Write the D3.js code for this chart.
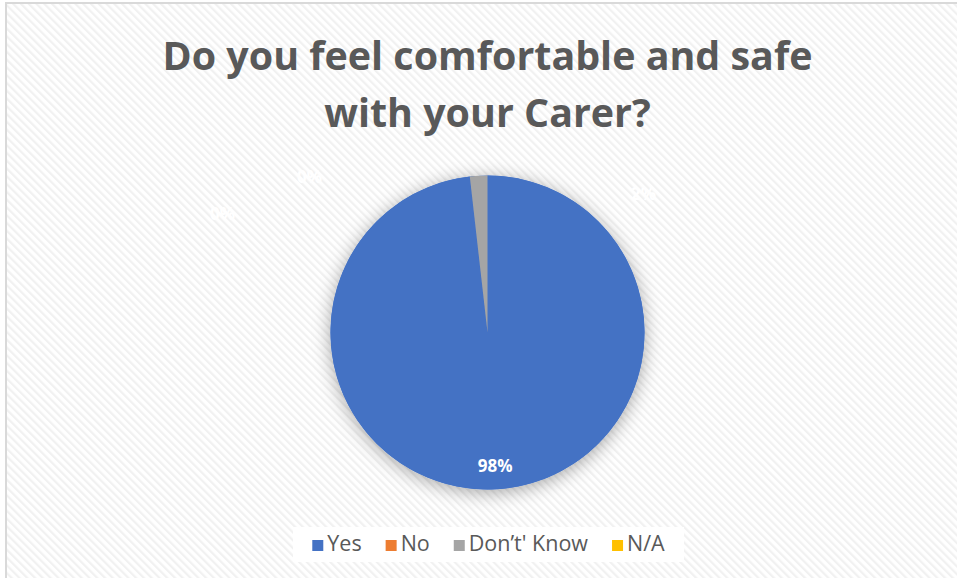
<!DOCTYPE html>
<html>
<head>
<meta charset="utf-8">
<script src="https://cdn.jsdelivr.net/npm/d3@7"></script>
<style>
  html, body { margin: 0; padding: 0; background: #fff; }
  svg { display: block; }
</style>
</head>
<body>
<svg id="chart"></svg>
<script>
//
// Data
//
var categories = ['Yes', 'No', "Don\u2019t' Know", 'N/A']
var values = [98.2, 0, 1.8, 0]
var colors = ['#4472C4', '#ED7D31', '#A5A5A5', '#FFC000']
var titleLines = ['Do you feel comfortable and safe', 'with your Carer?']

//
// Layout
//
var width = 957, height = 578
var cx = 487.5, cy = 332.5, radius = 157
var textColor = '#595959'
var font = '"Open Sans", "Noto Sans", sans-serif'

// where excel dropped the outside labels (offset from pie centre)
var labelOffsets = {
  'No': [-178, -155],
  "Don\u2019t' Know": [156, -138],
  'N/A': [-265, -118]
}

var svg = d3.select('#chart').attr('width', width).attr('height', height)
var defs = svg.append('defs')

var pattern = defs.append('pattern')
  .attr('id', 'stripes')
  .attr('patternUnits', 'userSpaceOnUse')
  .attr('width', 5.5).attr('height', 5.5)
  .attr('patternTransform', 'rotate(-45)')
pattern.append('rect').attr('width', 5.5).attr('height', 5.5).attr('fill', '#fff')
pattern.append('rect').attr('width', 2.2).attr('height', 5.5).attr('fill', '#f1f1f1')

var shadow = defs.append('filter').attr('id', 'shadow')
  .attr('x', '-30%').attr('y', '-30%').attr('width', '160%').attr('height', '160%')
shadow.append('feDropShadow')
  .attr('dx', 0).attr('dy', 3).attr('stdDeviation', 9)
  .attr('flood-color', '#000').attr('flood-opacity', 0.35)

// background + frame
svg.append('rect').attr('width', width).attr('height', height).attr('fill', '#fff')
svg.append('rect')
  .attr('x', 6).attr('y', 3).attr('width', width + 10).attr('height', height + 10)
  .attr('fill', 'url(#stripes)')
  .attr('stroke', '#d9d9d9').attr('stroke-width', 2)

// title
var title = svg.append('text')
  .attr('text-anchor', 'middle')
  .attr('fill', textColor)
  .attr('font-family', font)
  .attr('font-weight', 'bold')
  .attr('font-size', 37)
title.selectAll('tspan').data(titleLines).enter().append('tspan')
  .attr('x', cx)
  .attr('y', function (d, i) { return 70 + i * 57 })
  .text(function (d) { return d })

// fit first title line to the reference width
var w0 = title.select('tspan').node().getComputedTextLength()
title.attr('font-size', 37 * 650 / w0)

//
// Pie
//
var pie = d3.pie().sort(null).value(function (d) { return d.value })
var data = categories.map(function (c, i) { return { name: c, value: values[i], color: colors[i] } })
var arcs = pie(data)
var arc = d3.arc().innerRadius(0).outerRadius(radius)
var labelArc = d3.arc().innerRadius(radius * 0.855).outerRadius(radius * 0.855)

var g = svg.append('g').attr('transform', 'translate(' + cx + ',' + cy + ')')

g.append('circle').attr('r', radius).attr('fill', '#4472C4').attr('filter', 'url(#shadow)')

g.selectAll('path.slice').data(arcs).enter().append('path')
  .attr('class', 'slice')
  .attr('d', arc)
  .attr('fill', function (d) { return d.data.color })

g.selectAll('text.label').data(arcs).enter().append('text')
  .attr('class', 'label')
  .attr('transform', function (d) {
    var p = labelOffsets[d.data.name] || labelArc.centroid(d)
    return 'translate(' + p[0] + ',' + p[1] + ')'
  })
  .attr('dy', '0.35em')
  .attr('text-anchor', 'middle')
  .attr('fill', '#fff')
  .attr('font-family', font)
  .attr('font-weight', 'bold')
  .attr('font-size', 17)
  .text(function (d) { return Math.round(d.data.value) + '%' })

//
// Legend
//
var legendBox = { x: 293, y: 527, w: 391, h: 35 }
svg.append('rect')
  .attr('x', legendBox.x).attr('y', legendBox.y)
  .attr('width', legendBox.w).attr('height', legendBox.h)
  .attr('fill', '#fff')

var legend = svg.append('g')
var items = legend.selectAll('g').data(data).enter().append('g')
items.append('rect')
  .attr('width', 11).attr('height', 11)
  .attr('y', -11)
  .attr('fill', function (d) { return d.color })
items.append('text')
  .attr('x', 15)
  .attr('fill', textColor)
  .attr('font-family', font)
  .attr('font-size', 21.5)
  .text(function (d) { return d.name })

var gap = 24
var xPos = 0
items.each(function () {
  var t = d3.select(this).select('text').node().getComputedTextLength()
  d3.select(this).attr('transform', 'translate(' + xPos + ',0)')
  xPos += 15 + t + gap
})
var total = xPos - gap
legend.attr('transform', 'translate(' + (legendBox.x + (legendBox.w - total) / 2) + ',' + 551 + ')')
</script>
</body>
</html>
